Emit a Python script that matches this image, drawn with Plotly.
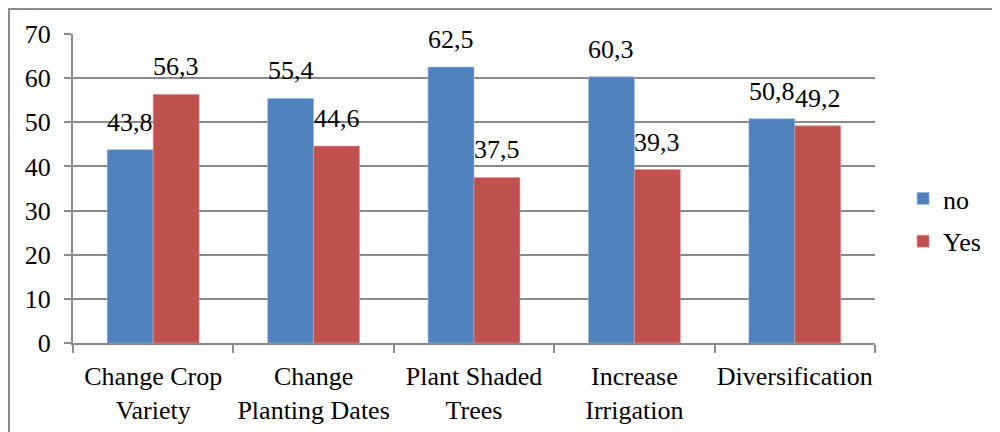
import plotly.graph_objects as go

categories = ["Change Crop<br>Variety", "Change<br>Planting Dates", "Plant Shaded<br>Trees",
              "Increase<br>Irrigation", "Diversification"]
no_values = [43.8, 55.4, 62.5, 60.3, 50.8]
yes_values = [56.3, 44.6, 37.5, 39.3, 49.2]
series_names = ["no", "Yes"]
y_ticks = [0, 10, 20, 30, 40, 50, 60, 70]

FONT = "'Liberation Serif', 'Times New Roman', Times, serif"
FS = 26
GRID = "#8a8a8a"
BLUE = "#4F81BD"
RED = "#C0504D"

fig = go.Figure()
fig.add_trace(go.Bar(x=categories, y=no_values, name=series_names[0], marker_color=BLUE,
                     marker_line=dict(color="#9db8dd", width=0.6), legendgroup="a"))
fig.add_trace(go.Bar(x=categories, y=yes_values, name=series_names[1], marker_color=RED,
                     marker_line=dict(color="#dd9896", width=0.6), legendgroup="b"))

def fmt(v):
    return f"{v:.1f}".replace(".", ",")

bar_px = 46
for vals, shift in ((no_values, -bar_px / 2), (yes_values, bar_px / 2)):
    for c, v in zip(categories, vals):
        fig.add_annotation(x=c, y=v, text=fmt(v), showarrow=False, xshift=shift,
                           yanchor="bottom", yshift=11,
                           font=dict(family=FONT, size=FS, color="black"))

fig.add_shape(type="rect", xref="paper", yref="paper", x0=-0.0798, x1=1.5, y0=-0.6, y1=1.081,
              line=dict(color="#8a8a8a", width=2), layer="below")

fig.update_layout(
    width=1000, height=432,
    margin=dict(l=65, r=133, t=26, b=97),
    paper_bgcolor="white", plot_bgcolor="white",
    barmode="group", bargap=0.427, bargroupgap=0,
    font=dict(family=FONT, size=FS, color="black"),
    showlegend=True,
    legend=dict(x=1.035, y=0.398, xanchor="left", yanchor="middle",
                font=dict(family=FONT, size=FS), traceorder="grouped", tracegroupgap=6,
                bgcolor="rgba(0,0,0,0)"),
    xaxis=dict(showline=True, linecolor=GRID, linewidth=2, ticks="outside", tickson="boundaries",
               ticklen=8, tickcolor=GRID, tickwidth=2, showgrid=False, tickangle=0,
               automargin=False, ticklabelstandoff=9, tickfont=dict(family=FONT, size=FS)),
    yaxis=dict(range=[0, 70], tickvals=y_ticks, showline=True, linecolor=GRID, linewidth=2,
               ticks="outside", ticklen=7, tickcolor=GRID, tickwidth=2, automargin=False,
               showgrid=True, gridcolor=GRID, gridwidth=2, zeroline=False,
               ticklabelstandoff=8, tickfont=dict(family=FONT, size=FS)),
)

fig.write_html("out.html")
